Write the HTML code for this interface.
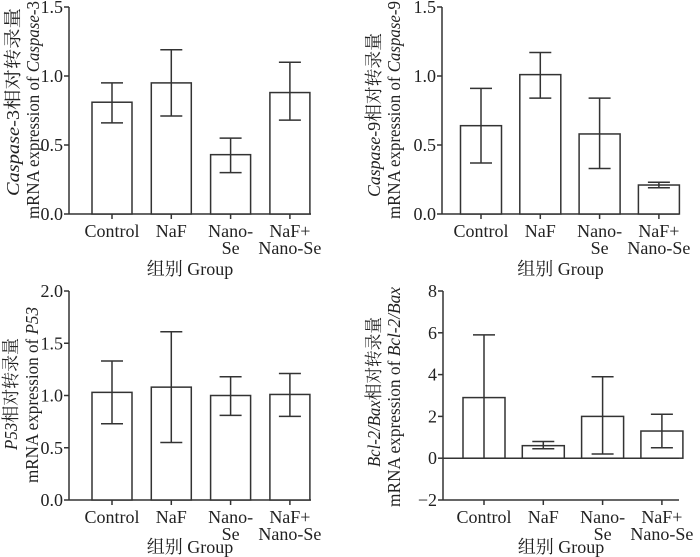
<!DOCTYPE html>
<html><head><meta charset="utf-8"><style>
body{margin:0;background:#fff;width:700px;height:557px;overflow:hidden}
svg{display:block}
text{font-family:"Liberation Serif","Noto Serif CJK SC",serif;fill:#222}
</style></head><body>
<svg id="c" width="700" height="557" xmlns="http://www.w3.org/2000/svg"></svg>
<script>
const categories=["Control","NaF","Nano-Se","NaF+Nano-Se"];
const casp3Values=[0.81,0.95,0.43,0.88];
const casp3Low=[0.66,0.71,0.30,0.68];
const casp3High=[0.95,1.19,0.55,1.10];
const casp9Values=[0.64,1.01,0.58,0.21];
const casp9Low=[0.37,0.84,0.33,0.19];
const casp9High=[0.91,1.17,0.84,0.23];
const p53Values=[1.03,1.08,1.00,1.01];
const p53Low=[0.73,0.55,0.81,0.80];
const p53High=[1.33,1.61,1.18,1.21];
const bclValues=[2.9,0.6,2.0,1.3];
const bclLow=[0.0,0.45,0.2,0.5];
const bclHigh=[5.9,0.8,3.9,2.1];
const ticks1=[0,0.5,1.0,1.5];
const ticks3=[0,0.5,1.0,1.5,2.0];
const ticks4=[-2,0,2,4,6,8];
const tickLabels1=["0.0","0.5","1.0","1.5"];
const tickLabels3=["0.0","0.5","1.0","1.5","2.0"];
const tickLabels4=["\u22122","0","2","4","6","8"];

const svg=document.getElementById('c');
const NS='http://www.w3.org/2000/svg';
function mk(tag,attrs,parent){const e=document.createElementNS(NS,tag);for(const k in attrs)e.setAttribute(k,attrs[k]);(parent||svg).appendChild(e);return e;}

function panel(o){
  const g=mk('g',{});
  
  
  const y=v=>o.y0+(v-o.min)/(o.max-o.min)*(o.y1-o.y0);
  const xc=i=>o.ax+o.off+i*o.step;
  const ya=mk('line',{x1:o.ax,y1:y(o.max),x2:o.ax,y2:y(o.min),stroke:'#333','stroke-width':1.5},g);
  
  
  o.ticks.forEach((t,i)=>{
    mk('line',{x1:o.ax-5,y1:y(t),x2:o.ax,y2:y(t),stroke:'#333','stroke-width':1.5},g);
    const tl=mk('text',{x:o.ax-6,y:y(t)+6,'text-anchor':'end','font-size':18},g);
    tl.textContent=o.tickLabels[i];
    
    
  });
  const xa=mk('line',{x1:o.ax,y1:y(o.min),x2:o.ax+o.xlen,y2:y(o.min),stroke:'#333','stroke-width':1.5},g);
  
  
  if(o.min<0){
    const zl=mk('line',{x1:o.ax,y1:y(0),x2:o.ax+o.xlen,y2:y(0),stroke:'#333','stroke-width':1.5},g);
    
    
  }
  categories.forEach((c,i)=>{
    const cx=xc(i);
    const tb=y(o.min);
    mk('line',{x1:cx,y1:tb,x2:cx,y2:tb+5,stroke:'#333','stroke-width':1.5},g);
    const v=o.vals[i];
    const b=mk('rect',{x:cx-o.bw/2,y:Math.min(y(v),y(0)),width:o.bw,height:Math.abs(y(0)-y(v)),fill:'#fff',stroke:'#333','stroke-width':1.5},g);
    
    
    const e=mk('path',{d:`M${cx} ${y(o.lo[i])}V${y(o.hi[i])}M${cx-11} ${y(o.hi[i])}H${cx+11}M${cx-11} ${y(o.lo[i])}H${cx+11}`,stroke:'#333','stroke-width':1.5,fill:'none'},g);
    
    
    const lines=c==="Nano-Se"?["Nano-","Se"]:c==="NaF+Nano-Se"?["NaF+","Nano-Se"]:[c];
    lines.forEach((l,j)=>{
      const t=mk('text',{x:cx,y:tb+23+j*17,'text-anchor':'middle','font-size':18},g);
      t.textContent=l;
      
      
    });
  });
  const xt=mk('text',{x:o.ax+o.xlen/2,y:o.xtY,'text-anchor':'middle','font-size':18},g);
  xt.textContent='组别 Group';
  
  
  const t1=mk('text',{transform:`translate(${o.ytX1},${o.c1}) rotate(-90)`,'text-anchor':'middle','font-size':18,textLength:o.l1,lengthAdjust:'spacingAndGlyphs'},g);
  t1.innerHTML=o.title1;
  
  
  const t2=mk('text',{transform:`translate(${o.ytX2},${o.c2}) rotate(-90)`,'text-anchor':'middle','font-size':18,textLength:o.l2,lengthAdjust:'spacingAndGlyphs'},g);
  t2.innerHTML=o.title2;
  
  
}
panel({name:'caspase3-panel',ax:69,off:43,step:59.3,bw:40,xlen:242,y0:214,y1:7,min:0,max:1.5,ticks:ticks1,tickLabels:tickLabels1,vals:casp3Values,lo:casp3Low,hi:casp3High,xtY:275,ytX1:19,ytX2:39,c1:102,l1:188,c2:110,l2:218,
  title1:'<tspan font-style="italic">Caspase</tspan>-3相对转录量',title2:'mRNA expression of <tspan font-style="italic">Caspase</tspan>-3'});
panel({name:'caspase9-panel',ax:442,off:39,step:59.3,bw:41,xlen:237,y0:214,y1:7,min:0,max:1.5,ticks:ticks1,tickLabels:tickLabels1,vals:casp9Values,lo:casp9Low,hi:casp9High,xtY:275,ytX1:380,ytX2:400,c1:115,l1:164,c2:110,l2:218,
  title1:'<tspan font-style="italic">Caspase</tspan>-9相对转录量',title2:'mRNA expression of <tspan font-style="italic">Caspase</tspan>-9'});
panel({name:'p53-panel',ax:69,off:43,step:59.3,bw:40,xlen:242,y0:500,y1:291,min:0,max:2.0,ticks:ticks3,tickLabels:tickLabels3,vals:p53Values,lo:p53Low,hi:p53High,xtY:553,ytX1:17,ytX2:38,c1:394,l1:112,c2:395,l2:176,
  title1:'<tspan font-style="italic">P53</tspan>相对转录量',title2:'mRNA expression of <tspan font-style="italic">P53</tspan>'});
panel({name:'bcl2-bax-panel',ax:443,off:41,step:59.3,bw:42,xlen:236,y0:500,y1:291,min:-2,max:8,ticks:ticks4,tickLabels:tickLabels4,vals:bclValues,lo:bclLow,hi:bclHigh,xtY:553,ytX1:380,ytX2:400,c1:392,l1:150,c2:397,l2:220,
  title1:'<tspan font-style="italic">Bcl-2/Bax</tspan>相对转录量',title2:'mRNA expression of <tspan font-style="italic">Bcl-2/Bax</tspan>'});
</script>
</body></html>
